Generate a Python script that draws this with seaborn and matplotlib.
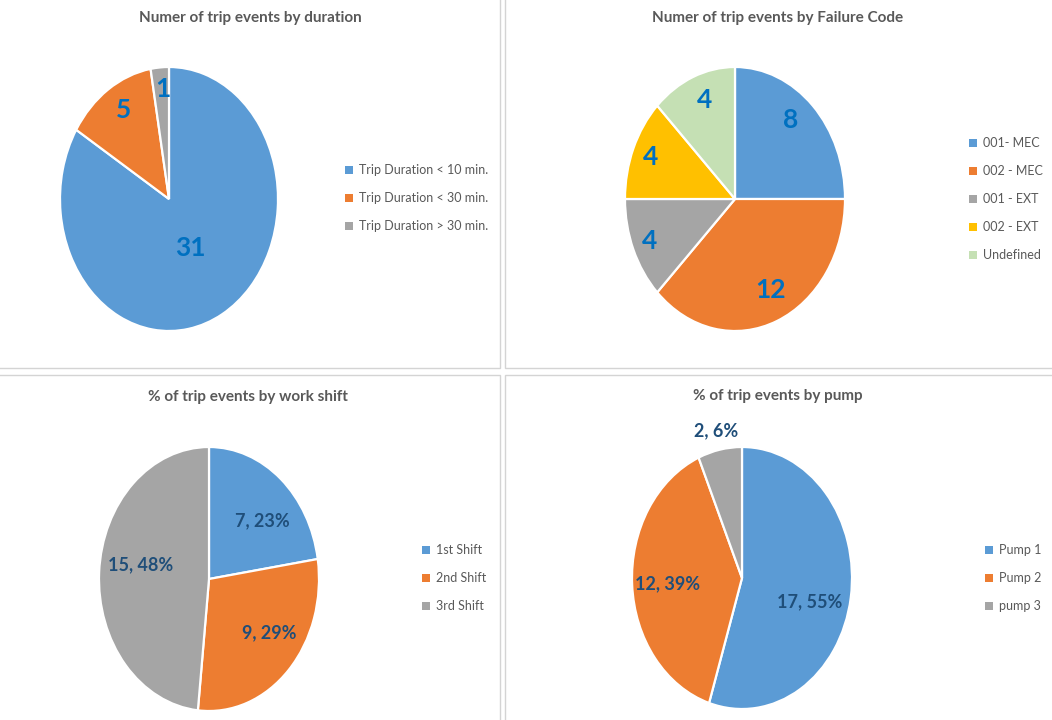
import numpy as np
import matplotlib
matplotlib.use("Agg")
import matplotlib.pyplot as plt
from matplotlib.patches import Patch, Rectangle
import seaborn as sns

# ---------------- data ----------------
dur_labels = ["Trip Duration < 10 min.", "Trip Duration < 30 min.", "Trip Duration > 30 min."]
dur_values = [31, 5, 1]

code_labels = ["001- MEC", "002 - MEC", "001 - EXT", "002 - EXT", "Undefined"]
code_values = [8, 12, 4, 4, 4]

shift_labels = ["1st Shift", "2nd Shift", "3rd Shift"]
shift_values = [7, 9, 15]

pump_labels = ["Pump 1", "Pump 2", "pump 3"]
pump_values = [17, 12, 2]

titles = ["Numer of trip events by duration",
          "Numer of trip events by Failure Code",
          "% of trip events by work shift",
          "% of trip events by pump"]

# ---------------- style ----------------
sns.set_theme(style="white")
plt.rcParams['font.family'] = ['Lato', 'DejaVu Sans']

BLUE, ORANGE, GRAY, YELLOW, GREEN = "#5B9BD5", "#ED7D31", "#A5A5A5", "#FFC000", "#C5E0B4"
pal3 = sns.color_palette([BLUE, ORANGE, GRAY])
pal5 = sns.color_palette([BLUE, ORANGE, GRAY, YELLOW, GREEN])

W, H = 1052, 720
fig = plt.figure(figsize=(W / 100, H / 100), dpi=100)
fig.patch.set_facecolor("white")

# panel frames (Excel chart areas)
for (x0, y0, x1, y1) in [(-2, -2, 500, 368), (505, -2, 1054, 368),
                         (-2, 375, 500, 722), (505, 375, 1054, 722)]:
    fig.patches.append(Rectangle((x0 / W, 1 - y1 / H), (x1 - x0) / W, (y1 - y0) / H,
                                 transform=fig.transFigure, facecolor="white",
                                 edgecolor="#d4d4d4", lw=1.0, zorder=-10))


def pie_panel(cx, cy, rx, ry, values, colors, texts, radii, shifts, tcolor, tsize,
              title, tx, ty, labels, lx, ly):
    ax = fig.add_axes([(cx - rx) / W, 1 - (cy + ry) / H, 2 * rx / W, 2 * ry / H])
    ax.set_zorder(5)
    ax.patch.set_alpha(0)
    wedges, _ = ax.pie(values, colors=colors, startangle=90, counterclock=False,
                       wedgeprops=dict(edgecolor="white", linewidth=1.6))
    ax.set_aspect("auto")
    ax.set_xlim(-1, 1)
    ax.set_ylim(-1, 1)
    ax.axis("off")
    for w, t, r, s in zip(wedges, texts, radii, shifts):
        ang = np.deg2rad((w.theta1 + w.theta2) / 2 + s)
        ax.text(r * np.cos(ang), r * np.sin(ang), t, ha="center", va="center",
                color=tcolor, fontsize=tsize, fontweight="bold", clip_on=False)
    fig.text(tx / W, 1 - ty / H, title, ha="center", va="center",
             fontsize=11, fontweight="bold", color="#595959")
    handles = [Patch(facecolor=c, edgecolor="none") for c in colors]
    fig.legend(handles, labels, loc="center left",
               bbox_to_anchor=(lx / W, 1 - ly / H), frameon=False,
               fontsize=9, labelcolor="#595959", handlelength=0.6,
               handleheight=0.6, handletextpad=0.5, labelspacing=1.28,
               borderpad=0, borderaxespad=0)


pie_panel(169, 199, 109, 132, dur_values, pal3,
          [str(v) for v in dur_values], [0.42, 0.79, 0.835], [-1.5, -2.5, -1],
          "#0070C0", 19, titles[0], 250, 18, dur_labels, 345, 198)

pie_panel(735, 199, 110, 132, code_values, pal5,
          [str(v) for v in code_values], [0.78, 0.76, 0.84, 0.836, 0.8],
          [5, 3, 0, 0, -2.5],
          "#0070C0", 19, titles[1], 778, 18, code_labels, 969, 199)

tot3 = sum(shift_values)
pie_panel(209, 579, 110, 132, shift_values, pal3,
          [f"{v}, {round(100 * v / tot3)}%" for v in shift_values],
          [0.66, 0.68, 0.63], [-7, 7, -7],
          "#1F4E79", 13, titles[2], 248, 397, shift_labels, 422, 578)

tot4 = sum(pump_values)
pie_panel(742, 578, 110, 131, pump_values, pal3,
          [f"{v}, {round(100 * v / tot4)}%" for v in pump_values],
          [0.64, 0.68, 1.145], [-7.7, 0.5, 0.3],
          "#1F4E79", 13, titles[3], 778, 396, pump_labels, 985, 578)

fig.savefig("out.png", dpi=100, facecolor="white")
